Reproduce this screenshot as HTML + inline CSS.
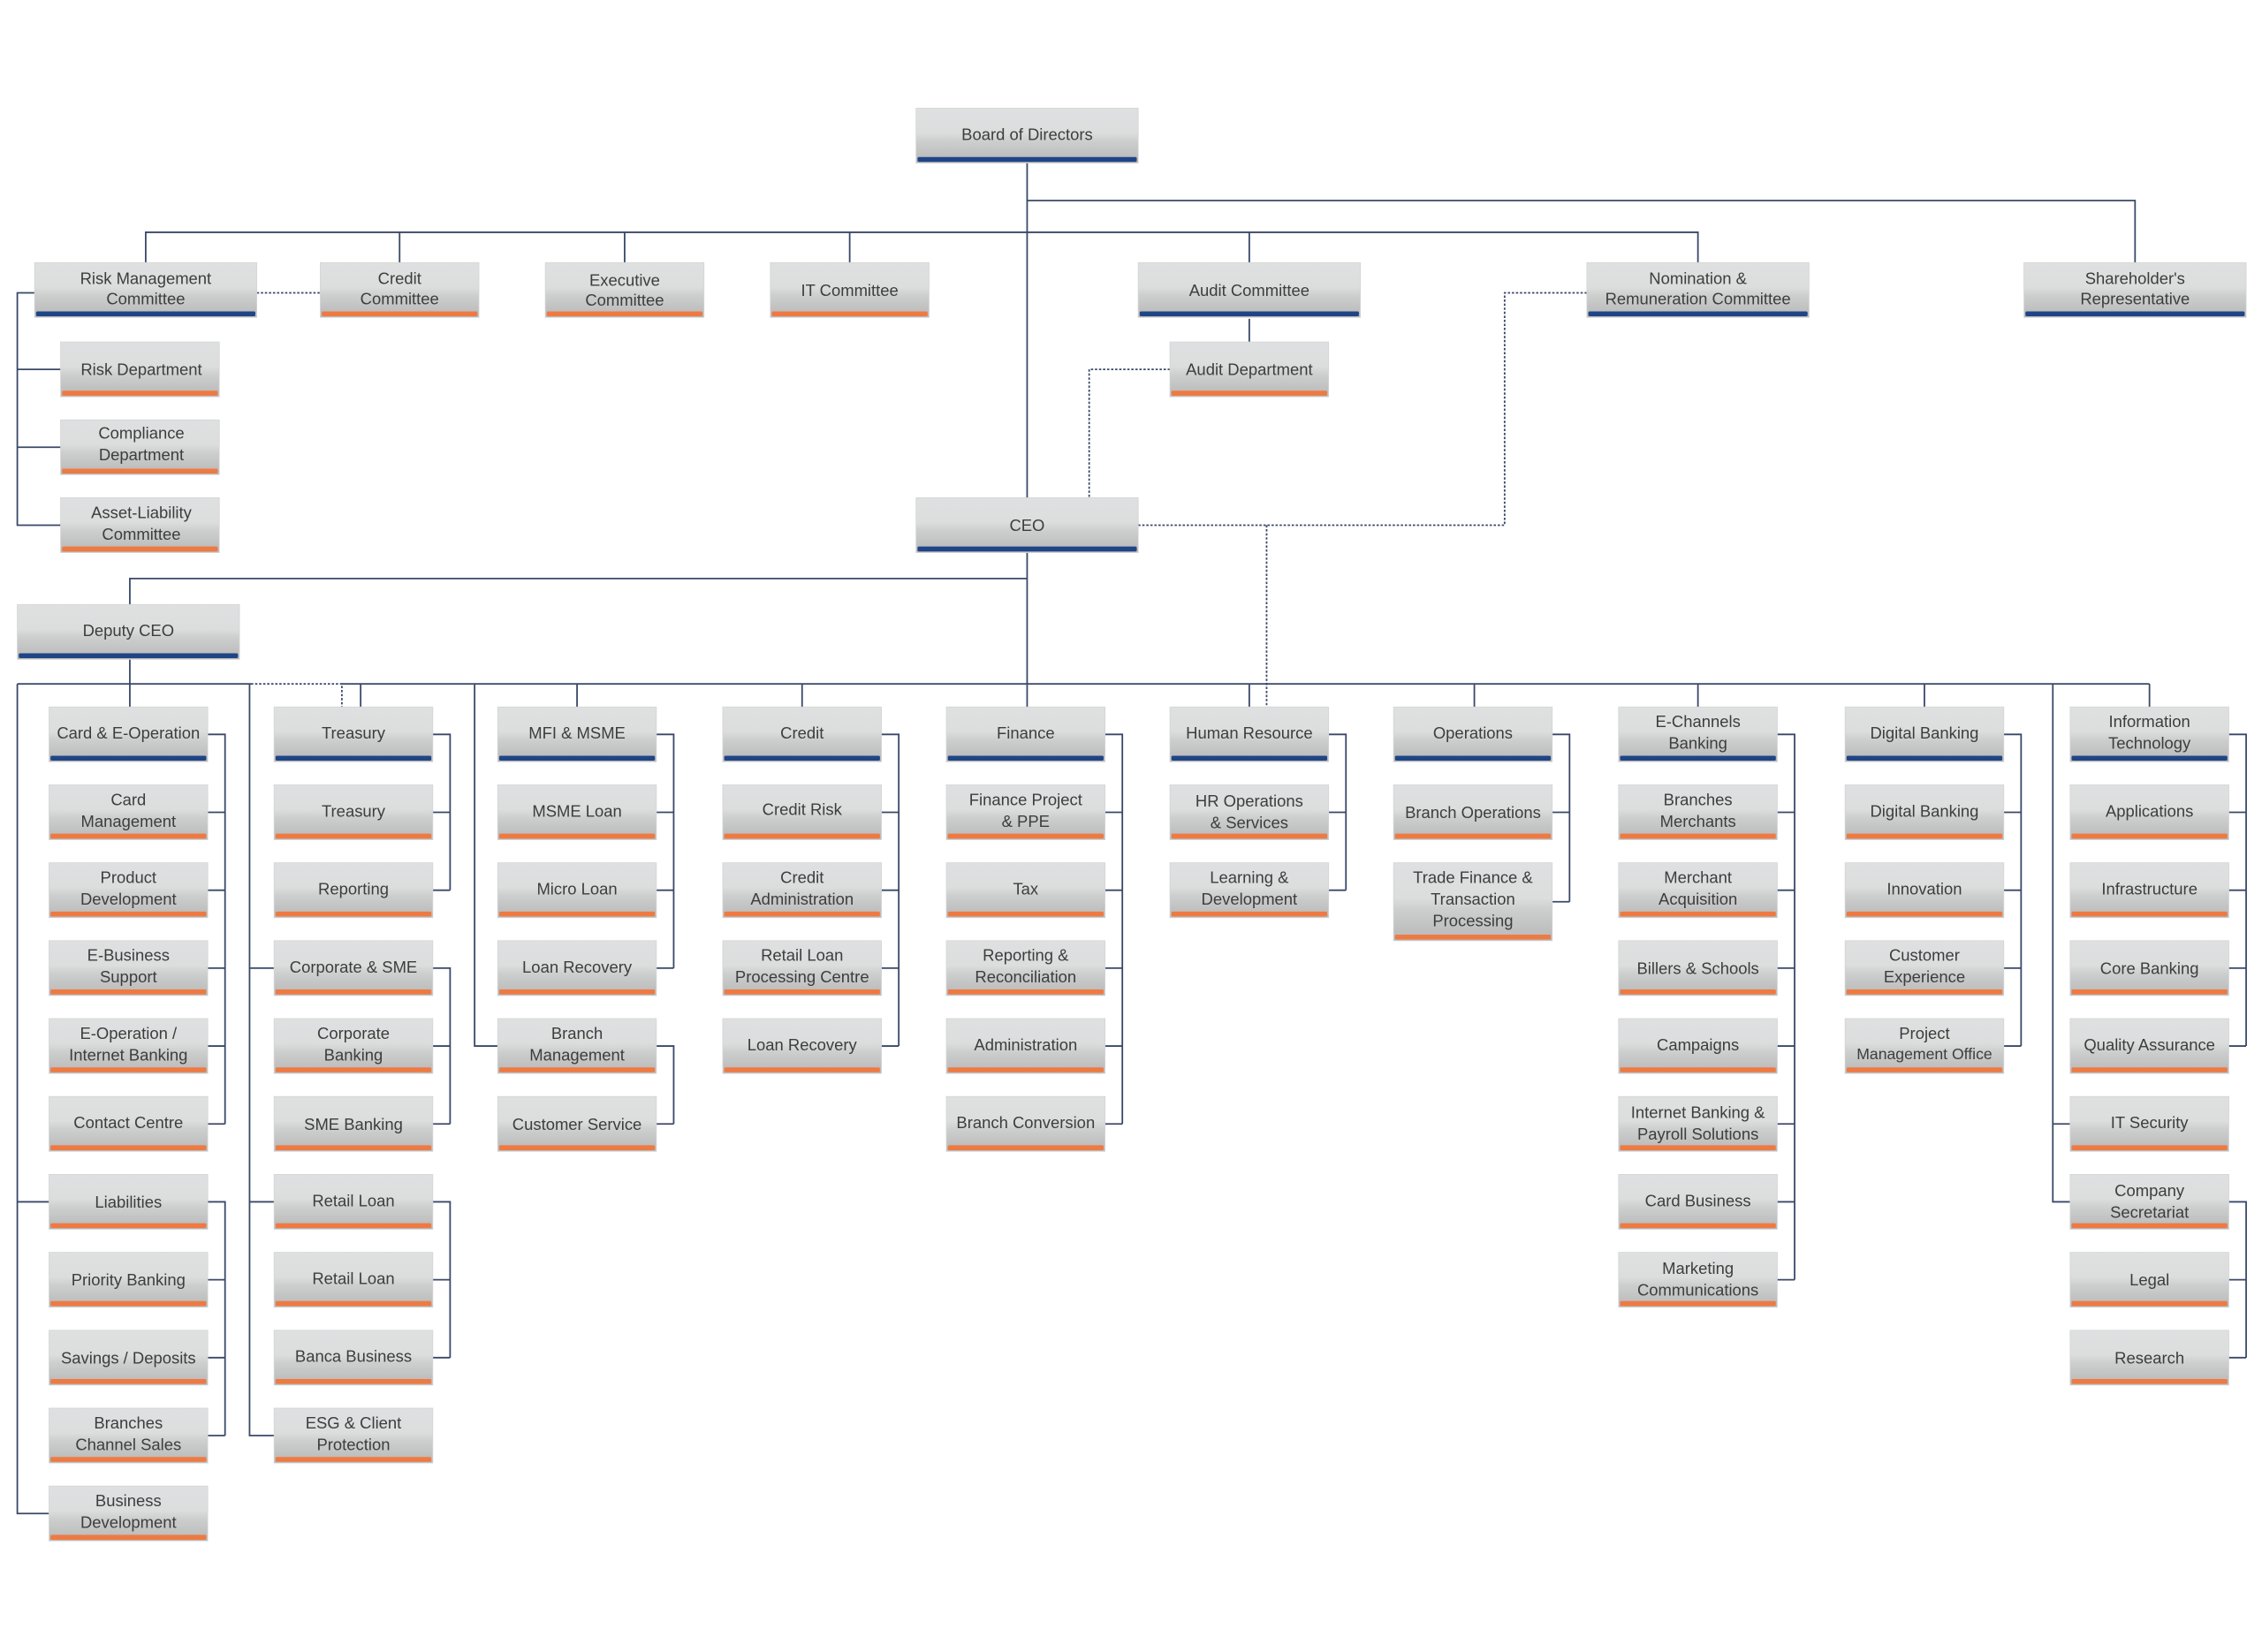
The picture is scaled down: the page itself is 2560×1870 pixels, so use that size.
<!DOCTYPE html>
<html><head><meta charset="utf-8"><style>
html,body{margin:0;padding:0;background:#fff;}
svg{display:block;}
text{font-family:"Liberation Sans",Arial,sans-serif;font-size:11.3px;fill:#3d3d3d;text-anchor:middle;}
.l{fill:none;stroke:#3a4868;stroke-width:1.1;}
.d{fill:none;stroke:#3a4868;stroke-width:1.1;stroke-dasharray:1.6 1.2;}
</style></head><body>
<svg width="2560" height="1870" viewBox="0 0 1568 1145" preserveAspectRatio="none" xmlns="http://www.w3.org/2000/svg">
<defs>
<linearGradient id="g" x1="0" y1="0" x2="0" y2="1">
<stop offset="0" stop-color="#dfe0e1"/><stop offset="0.45" stop-color="#dcdddd"/><stop offset="0.6" stop-color="#cdcece"/><stop offset="1" stop-color="#b8b8b8"/>
</linearGradient>
<g id="o"><rect x="0" y="0" width="110" height="38" fill="url(#g)" stroke="#d4d4d4" stroke-width="0.5"/><rect x="1" y="33.8" width="108" height="3.4" fill="#ee7a42" rx="1"/></g>
<g id="b"><rect x="0" y="0" width="110" height="38" fill="url(#g)" stroke="#d4d4d4" stroke-width="0.5"/><rect x="1" y="33.8" width="108" height="3.4" fill="#1f4586" rx="1"/></g>
<g id="B"><rect x="0" y="0" width="154" height="38" fill="url(#g)" stroke="#d4d4d4" stroke-width="0.5"/><rect x="1" y="33.8" width="152" height="3.4" fill="#1f4586" rx="1"/></g>
<g id="T"><rect x="0" y="0" width="110" height="54" fill="url(#g)" stroke="#d4d4d4" stroke-width="0.5"/><rect x="1" y="49.8" width="108" height="3.4" fill="#ee7a42" rx="1"/></g>
</defs>

<!-- connectors -->
<path class="l" d="M712 113V490 M712 139H1480V182 M101 182V161H1177V182 M277 161V182 M433 161V182 M589 161V182 M866 161V182 M866 221V237"/>
<path class="l" d="M24 203H12V364H42 M12 256H42 M12 310H42"/>
<path class="d" d="M178 203H222"/>
<path class="d" d="M811 256H755V345"/>
<path class="d" d="M789 364H1043V203H1100"/>
<path class="d" d="M878 364V490"/>
<path class="l" d="M712 401H90V419 M90 457V490"/>
<path class="l" d="M12 474H174 M237 474H1490"/>
<path class="d" d="M174 474H237V490"/>
<path class="l" d="M250 474V490 M400 474V490 M556 474V490 M866 474V490 M1022 474V490 M1177 474V490 M1334 474V490 M1490 474V490"/>
<!-- col1 -->
<path class="l" d="M144 509H156V779 M144 563H156 M144 617H156 M144 671H156 M144 725H156 M144 779H156 M144 833H156V995 M144 887H156 M144 941H156 M144 995H156 M12 474V1049H34 M12 833H34"/>
<!-- col2 -->
<path class="l" d="M300 509H312V617 M300 563H312 M300 617H312 M300 671H312V779 M300 725H312 M300 779H312 M300 833H312V941 M300 887H312 M300 941H312 M173 474V995H190 M173 671H190 M173 833H190"/>
<!-- col3 -->
<path class="l" d="M455 509H467V671 M455 563H467 M455 617H467 M455 671H467 M455 725H467V779 M455 779H467 M329 474V725H345"/>
<!-- col4-7 -->
<path class="l" d="M611 509H623V725 M611 563H623 M611 617H623 M611 671H623 M611 725H623"/>
<path class="l" d="M766 509H778V779 M766 563H778 M766 617H778 M766 671H778 M766 725H778 M766 779H778"/>
<path class="l" d="M921 509H933V617 M921 563H933 M921 617H933"/>
<path class="l" d="M1076 509H1088V625 M1076 563H1088 M1076 625H1088"/>
<!-- col8-10 -->
<path class="l" d="M1232 509H1244V887 M1232 563H1244 M1232 617H1244 M1232 671H1244 M1232 725H1244 M1232 779H1244 M1232 833H1244 M1232 887H1244"/>
<path class="l" d="M1389 509H1401V725 M1389 563H1401 M1389 617H1401 M1389 671H1401 M1389 725H1401"/>
<path class="l" d="M1545 509H1557V725 M1545 563H1557 M1545 617H1557 M1545 671H1557 M1545 725H1557 M1545 833H1557V941 M1545 887H1557 M1545 941H1557 M1423 474V833H1435 M1423 779H1435"/>

<!-- top boxes -->
<use href="#B" x="635" y="75"/><text x="712" y="97">Board of Directors</text>
<use href="#B" x="24" y="182"/><text x="101" y="197">Risk Management</text><text x="101" y="211">Committee</text>
<use href="#o" x="222" y="182"/><text x="277" y="197">Credit</text><text x="277" y="211">Committee</text>
<use href="#o" x="378" y="182"/><text x="433" y="198">Executive</text><text x="433" y="212">Committee</text>
<use href="#o" x="534" y="182"/><text x="589" y="205">IT Committee</text>
<use href="#B" x="789" y="182"/><text x="866" y="205">Audit Committee</text>
<use href="#B" x="1100" y="182"/><text x="1177" y="197">Nomination &amp;</text><text x="1177" y="211">Remuneration Committee</text>
<use href="#B" x="1403" y="182"/><text x="1480" y="197">Shareholder's</text><text x="1480" y="211">Representative</text>
<use href="#o" x="42" y="237"/><text x="98" y="260">Risk Department</text>
<use href="#o" x="42" y="291"/><text x="98" y="304">Compliance</text><text x="98" y="319">Department</text>
<use href="#o" x="42" y="345"/><text x="98" y="359">Asset-Liability</text><text x="98" y="374">Committee</text>
<use href="#o" x="811" y="237"/><text x="866" y="260">Audit Department</text>
<use href="#B" x="635" y="345"/><text x="712" y="368">CEO</text>
<use href="#B" x="12" y="419"/><text x="89" y="441">Deputy CEO</text>

<!-- col1 -->
<use href="#b" x="34" y="490"/><text x="89" y="512">Card &amp; E-Operation</text>
<use href="#o" x="34" y="544"/><text x="89" y="558">Card</text><text x="89" y="573">Management</text>
<use href="#o" x="34" y="598"/><text x="89" y="612">Product</text><text x="89" y="627">Development</text>
<use href="#o" x="34" y="652"/><text x="89" y="666">E-Business</text><text x="89" y="681">Support</text>
<use href="#o" x="34" y="706"/><text x="89" y="720">E-Operation /</text><text x="89" y="735">Internet Banking</text>
<use href="#o" x="34" y="760"/><text x="89" y="782">Contact Centre</text>
<use href="#o" x="34" y="814"/><text x="89" y="837">Liabilities</text>
<use href="#o" x="34" y="868"/><text x="89" y="891">Priority Banking</text>
<use href="#o" x="34" y="922"/><text x="89" y="945">Savings / Deposits</text>
<use href="#o" x="34" y="976"/><text x="89" y="990">Branches</text><text x="89" y="1005">Channel Sales</text>
<use href="#o" x="34" y="1030"/><text x="89" y="1044">Business</text><text x="89" y="1059">Development</text>

<!-- col2 -->
<use href="#b" x="190" y="490"/><text x="245" y="512">Treasury</text>
<use href="#o" x="190" y="544"/><text x="245" y="566">Treasury</text>
<use href="#o" x="190" y="598"/><text x="245" y="620">Reporting</text>
<use href="#o" x="190" y="652"/><text x="245" y="674">Corporate &amp; SME</text>
<use href="#o" x="190" y="706"/><text x="245" y="720">Corporate</text><text x="245" y="735">Banking</text>
<use href="#o" x="190" y="760"/><text x="245" y="783">SME Banking</text>
<use href="#o" x="190" y="814"/><text x="245" y="836">Retail Loan</text>
<use href="#o" x="190" y="868"/><text x="245" y="890">Retail Loan</text>
<use href="#o" x="190" y="922"/><text x="245" y="944">Banca Business</text>
<use href="#o" x="190" y="976"/><text x="245" y="990">ESG &amp; Client</text><text x="245" y="1005">Protection</text>

<!-- col3 -->
<use href="#b" x="345" y="490"/><text x="400" y="512">MFI &amp; MSME</text>
<use href="#o" x="345" y="544"/><text x="400" y="566">MSME Loan</text>
<use href="#o" x="345" y="598"/><text x="400" y="620">Micro Loan</text>
<use href="#o" x="345" y="652"/><text x="400" y="674">Loan Recovery</text>
<use href="#o" x="345" y="706"/><text x="400" y="720">Branch</text><text x="400" y="735">Management</text>
<use href="#o" x="345" y="760"/><text x="400" y="783">Customer Service</text>

<!-- col4 -->
<use href="#b" x="501" y="490"/><text x="556" y="512">Credit</text>
<use href="#o" x="501" y="544"/><text x="556" y="565">Credit Risk</text>
<use href="#o" x="501" y="598"/><text x="556" y="612">Credit</text><text x="556" y="627">Administration</text>
<use href="#o" x="501" y="652"/><text x="556" y="666">Retail Loan</text><text x="556" y="681">Processing Centre</text>
<use href="#o" x="501" y="706"/><text x="556" y="728">Loan Recovery</text>

<!-- col5 -->
<use href="#b" x="656" y="490"/><text x="711" y="512">Finance</text>
<use href="#o" x="656" y="544"/><text x="711" y="558">Finance Project</text><text x="711" y="573">&amp; PPE</text>
<use href="#o" x="656" y="598"/><text x="711" y="620">Tax</text>
<use href="#o" x="656" y="652"/><text x="711" y="666">Reporting &amp;</text><text x="711" y="681">Reconciliation</text>
<use href="#o" x="656" y="706"/><text x="711" y="728">Administration</text>
<use href="#o" x="656" y="760"/><text x="711" y="782">Branch Conversion</text>

<!-- col6 -->
<use href="#b" x="811" y="490"/><text x="866" y="512">Human Resource</text>
<use href="#o" x="811" y="544"/><text x="866" y="559">HR Operations</text><text x="866" y="574">&amp; Services</text>
<use href="#o" x="811" y="598"/><text x="866" y="612">Learning &amp;</text><text x="866" y="627">Development</text>

<!-- col7 -->
<use href="#b" x="966" y="490"/><text x="1021" y="512">Operations</text>
<use href="#o" x="966" y="544"/><text x="1021" y="567">Branch Operations</text>
<use href="#T" x="966" y="598"/><text x="1021" y="612">Trade Finance &amp;</text><text x="1021" y="627">Transaction</text><text x="1021" y="642">Processing</text>

<!-- col8 -->
<use href="#b" x="1122" y="490"/><text x="1177" y="504">E-Channels</text><text x="1177" y="519">Banking</text>
<use href="#o" x="1122" y="544"/><text x="1177" y="558">Branches</text><text x="1177" y="573">Merchants</text>
<use href="#o" x="1122" y="598"/><text x="1177" y="612">Merchant</text><text x="1177" y="627">Acquisition</text>
<use href="#o" x="1122" y="652"/><text x="1177" y="675">Billers &amp; Schools</text>
<use href="#o" x="1122" y="706"/><text x="1177" y="728">Campaigns</text>
<use href="#o" x="1122" y="760"/><text x="1177" y="775">Internet Banking &amp;</text><text x="1177" y="790">Payroll Solutions</text>
<use href="#o" x="1122" y="814"/><text x="1177" y="836">Card Business</text>
<use href="#o" x="1122" y="868"/><text x="1177" y="883">Marketing</text><text x="1177" y="898">Communications</text>

<!-- col9 -->
<use href="#b" x="1279" y="490"/><text x="1334" y="512">Digital Banking</text>
<use href="#o" x="1279" y="544"/><text x="1334" y="566">Digital Banking</text>
<use href="#o" x="1279" y="598"/><text x="1334" y="620">Innovation</text>
<use href="#o" x="1279" y="652"/><text x="1334" y="666">Customer</text><text x="1334" y="681">Experience</text>
<use href="#o" x="1279" y="706"/><text x="1334" y="720">Project</text><text x="1334" y="734" style="font-size:10.8px">Management Office</text>

<!-- col10 -->
<use href="#b" x="1435" y="490"/><text x="1490" y="504">Information</text><text x="1490" y="519">Technology</text>
<use href="#o" x="1435" y="544"/><text x="1490" y="566">Applications</text>
<use href="#o" x="1435" y="598"/><text x="1490" y="620">Infrastructure</text>
<use href="#o" x="1435" y="652"/><text x="1490" y="675">Core Banking</text>
<use href="#o" x="1435" y="706"/><text x="1490" y="728">Quality Assurance</text>
<use href="#o" x="1435" y="760"/><text x="1490" y="782">IT Security</text>
<use href="#o" x="1435" y="814"/><text x="1490" y="829">Company</text><text x="1490" y="844">Secretariat</text>
<use href="#o" x="1435" y="868"/><text x="1490" y="891">Legal</text>
<use href="#o" x="1435" y="922"/><text x="1490" y="945">Research</text>
</svg>
</body></html>
